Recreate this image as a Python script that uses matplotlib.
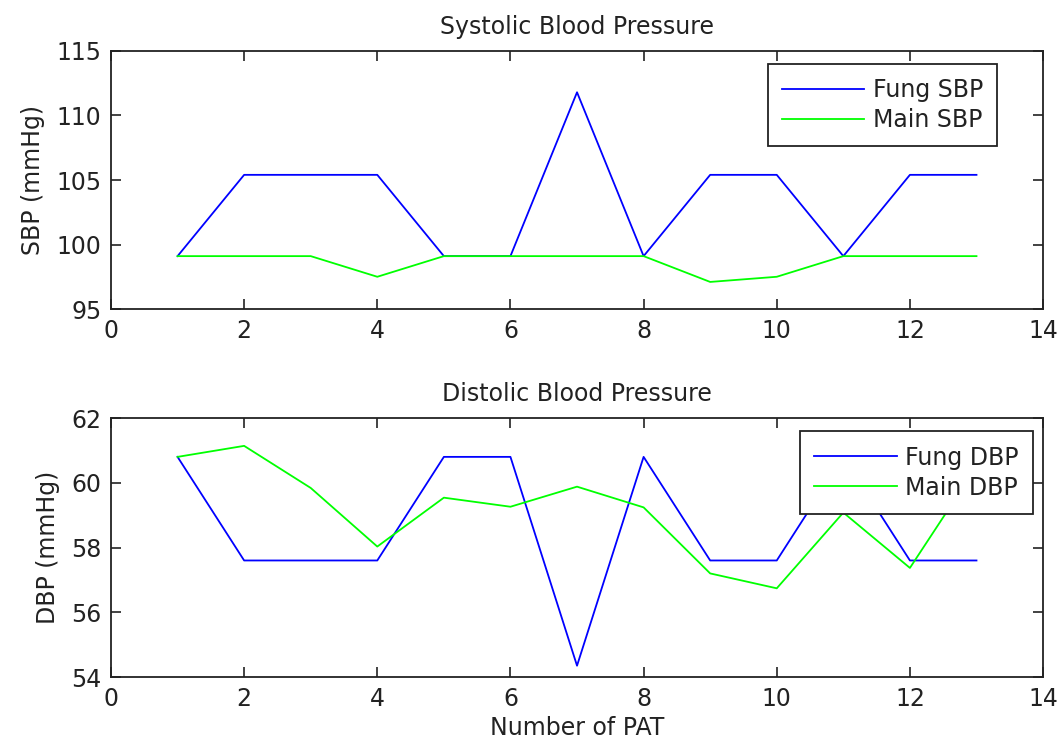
import matplotlib
matplotlib.use('Agg')
import matplotlib.pyplot as plt

# patient index
pat = [1, 2, 3, 4, 5, 6, 7, 8, 9, 10, 11, 12, 13]

fung_sbp = [99.1, 105.4, 105.4, 105.4, 99.1, 99.1, 111.8, 99.1, 105.4, 105.4, 99.1, 105.4, 105.4]
main_sbp = [99.1, 99.1, 99.1, 97.5, 99.1, 99.1, 99.1, 99.1, 97.1, 97.5, 99.1, 99.1, 99.1]

fung_dbp = [60.8, 57.6, 57.6, 57.6, 60.8, 60.8, 54.35, 60.8, 57.6, 57.6, 60.8, 57.6, 57.6]
main_dbp = [60.8, 61.14, 59.84, 58.03, 59.54, 59.26, 59.88, 59.24, 57.2, 56.74, 59.08, 57.37, 60.5]

xticks = [0, 2, 4, 6, 8, 10, 12, 14]
sbp_ticks = [95, 100, 105, 110, 115]
dbp_ticks = [54, 56, 58, 60, 62]

plt.rcParams['font.family'] = ['DejaVu Sans']
fs = 17
ink = '#222222'

fig = plt.figure(figsize=(10.61, 7.4), dpi=100)
ax1 = fig.add_axes([0.1046, 0.5824, 0.8785, 0.3487])
ax2 = fig.add_axes([0.1046, 0.0851, 0.8785, 0.3500])


def style(ax, yticks):
    ax.set_xlim(0, 14)
    ax.set_ylim(yticks[0], yticks[-1])
    ax.set_xticks(xticks)
    ax.set_yticks(yticks)
    ax.tick_params(direction='in', length=7, width=1.2, top=True, right=True,
                   labelsize=fs, colors=ink, pad=7)
    for s in ax.spines.values():
        s.set_linewidth(1.3)
        s.set_color(ink)


def add_legend(ax, anchor):
    leg = ax.legend(loc='upper right', bbox_to_anchor=anchor, borderaxespad=0,
                    fontsize=fs, fancybox=False, framealpha=1, edgecolor=ink,
                    handlelength=3.5, handletextpad=0.35, labelspacing=0.25,
                    borderpad=0.6)
    leg.get_frame().set_linewidth(1.3)
    for t in leg.get_texts():
        t.set_color(ink)


ax1.plot(pat, fung_sbp, color='#0000ff', lw=1.3, label='Fung SBP')
ax1.plot(pat, main_sbp, color='#00ff00', lw=1.3, label='Main SBP')
style(ax1, sbp_ticks)
ax1.set_title('Systolic Blood Pressure', fontsize=fs, color=ink, pad=12)
ax1.set_ylabel('SBP (mmHg)', fontsize=fs, color=ink, labelpad=8)
add_legend(ax1, (0.9506, 0.95))

ax2.plot(pat, fung_dbp, color='#0000ff', lw=1.3, label='Fung DBP')
ax2.plot(pat, main_dbp, color='#00ff00', lw=1.3, label='Main DBP')
style(ax2, dbp_ticks)
ax2.set_title('Distolic Blood Pressure', fontsize=fs, color=ink, pad=12)
ax2.set_ylabel('DBP (mmHg)', fontsize=fs, color=ink, labelpad=8)
ax2.set_xlabel('Number of PAT', fontsize=fs, color=ink, labelpad=4)
add_legend(ax2, (0.989, 0.948))

fig.savefig('out.png', dpi=100)
